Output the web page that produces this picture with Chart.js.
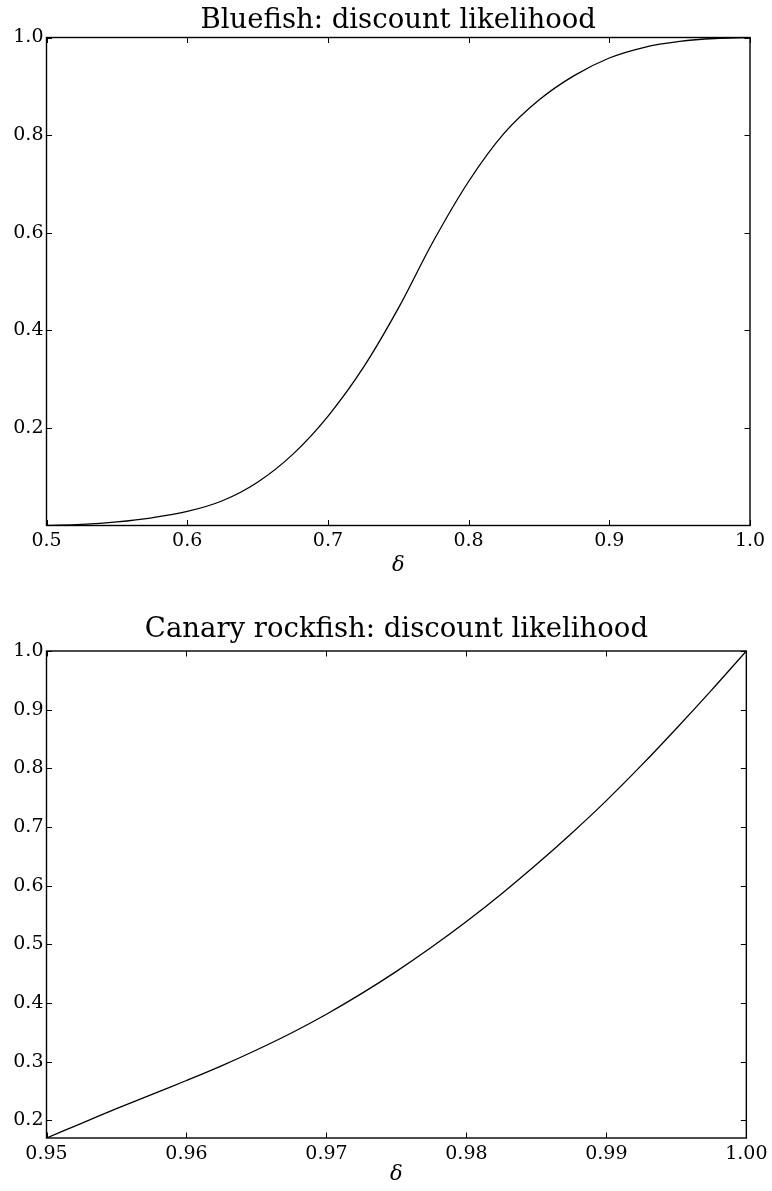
<!DOCTYPE html>
<html>
<head>
<meta charset="utf-8">
<script src="https://cdn.jsdelivr.net/npm/chart.js@4.4.0/dist/chart.umd.min.js"></script>
<style>
  body { margin: 0; background: #fff; }
  canvas { display: block; }
</style>
</head>
<body>
<canvas id="bluefishChart" width="772" height="595"></canvas>
<canvas id="canaryChart" width="772" height="596"></canvas>
<script>
// Bluefish: discount likelihood
const bluefishDelta = [0.5, 0.525, 0.55, 0.575, 0.6, 0.625, 0.65, 0.675, 0.7, 0.725, 0.75,
  0.775, 0.8, 0.825, 0.85, 0.875, 0.9, 0.925, 0.95, 0.975, 1.0];
const bluefishLikelihood = [0.0003, 0.0025, 0.0076, 0.016, 0.029, 0.051, 0.089, 0.146, 0.224, 0.323, 0.445,
  0.583, 0.705, 0.803, 0.872, 0.922, 0.958, 0.980, 0.992, 0.998, 1.0];
const bluefishXTicks = [0.5, 0.6, 0.7, 0.8, 0.9, 1.0];
const bluefishYTicks = [0.2, 0.4, 0.6, 0.8, 1.0];

// Canary rockfish: discount likelihood
const canaryDelta = [0.95, 0.9525, 0.955, 0.9575, 0.96, 0.9625, 0.965, 0.9675, 0.97, 0.9725, 0.975,
  0.9775, 0.98, 0.9825, 0.985, 0.9875, 0.99, 0.9925, 0.995, 0.9975, 1.0];
const canaryLikelihood = [0.170, 0.195, 0.220, 0.244, 0.268, 0.293, 0.320, 0.349, 0.381, 0.416, 0.454,
  0.495, 0.539, 0.586, 0.636, 0.689, 0.745, 0.805, 0.868, 0.933, 1.0];
const canaryXTicks = [0.95, 0.96, 0.97, 0.98, 0.99, 1.00];
const canaryYTicks = [0.2, 0.3, 0.4, 0.5, 0.6, 0.7, 0.8, 0.9, 1.0];

const FONT = '"DejaVu Serif", "Liberation Serif", serif';

// matplotlib-like frame with inward ticks on all four sides
const frameTicks = {
  id: 'frameTicks',
  afterDatasetsDraw(chart) {
    const { ctx, chartArea: a, scales: { x, y } } = chart;
    const len = 5.5;
    ctx.save();
    ctx.strokeStyle = '#000';
    ctx.lineWidth = 1;
    ctx.beginPath();
    x.ticks.forEach(t => {
      const px = Math.round(x.getPixelForValue(t.value)) + 0.5;
      ctx.moveTo(px, a.bottom); ctx.lineTo(px, a.bottom - len);
      ctx.moveTo(px, a.top); ctx.lineTo(px, a.top + len);
    });
    y.ticks.forEach(t => {
      const py = Math.round(y.getPixelForValue(t.value)) + 0.5;
      ctx.moveTo(a.left, py); ctx.lineTo(a.left + len, py);
      ctx.moveTo(a.right, py); ctx.lineTo(a.right - len, py);
    });
    ctx.stroke();
    ctx.lineWidth = 1.4;
    ctx.strokeRect(a.left, a.top, a.right - a.left, a.bottom - a.top);
    ctx.restore();
  }
};

// title centred over the plot area, like matplotlib
const plotTitle = {
  id: 'plotTitle',
  afterDraw(chart, args, opts) {
    const { ctx, chartArea: a } = chart;
    ctx.save();
    ctx.fillStyle = '#000';
    ctx.font = '27.5px ' + FONT;
    ctx.textAlign = 'center';
    ctx.textBaseline = 'alphabetic';
    ctx.fillText(opts.text, (a.left + a.right) / 2, opts.baseline);
    ctx.restore();
  }
};

function makeChart(id, cfg) {
  const ctx = document.getElementById(id).getContext('2d');
  return new Chart(ctx, {
    type: 'line',
    data: {
      datasets: [{
        data: cfg.delta.map((d, i) => ({ x: d, y: cfg.values[i] })),
        borderColor: '#000',
        borderWidth: 1.3,
        pointRadius: 0,
        fill: false,
        tension: 0.35
      }]
    },
    options: {
      responsive: false,
      animation: false,
      layout: { padding: { top: cfg.top, left: 0, right: 22, bottom: 0 } },
      plugins: {
        legend: { display: false },
        tooltip: { enabled: false },
        plotTitle: { text: cfg.title, baseline: cfg.titleBaseline }
      },
      scales: {
        x: {
          type: 'linear',
          min: cfg.xTicks[0],
          max: cfg.xTicks[cfg.xTicks.length - 1],
          afterBuildTicks: s => { s.ticks = cfg.xTicks.map(v => ({ value: v })); },
          afterFit: s => { s.height = cfg.xHeight; },
          grid: { display: false, drawTicks: false },
          border: { display: false },
          ticks: {
            color: '#000',
            font: { family: FONT, size: 19 },
            padding: 4.5,
            maxRotation: 0,
            callback: v => v.toFixed(cfg.xDigits)
          },
          title: {
            display: true,
            text: 'δ',
            color: '#000',
            font: { family: FONT, size: 21, style: 'italic' },
            padding: { top: 0, bottom: cfg.deltaPad }
          }
        },
        y: {
          type: 'linear',
          min: cfg.values[0],
          max: 1.0,
          afterBuildTicks: s => { s.ticks = cfg.yTicks.map(v => ({ value: v })); },
          afterFit: s => { s.width = 46.5; },
          grid: { display: false, drawTicks: false },
          border: { display: false },
          ticks: {
            color: '#000',
            font: { family: FONT, size: 19 },
            padding: 3,
            callback: v => v.toFixed(1)
          }
        }
      }
    },
    plugins: [frameTicks, plotTitle]
  });
}

makeChart('bluefishChart', {
  delta: bluefishDelta, values: bluefishLikelihood,
  xTicks: bluefishXTicks, yTicks: bluefishYTicks, xDigits: 1,
  title: 'Bluefish: discount likelihood', titleBaseline: 27.5,
  top: 37.5, xHeight: 69.5, deltaPad: 17
});

makeChart('canaryChart', {
  delta: canaryDelta, values: canaryLikelihood,
  xTicks: canaryXTicks, yTicks: canaryYTicks, xDigits: 2,
  title: 'Canary rockfish: discount likelihood', titleBaseline: 41.5,
  top: 56, xHeight: 53, deltaPad: 4
});
</script>
</body>
</html>
